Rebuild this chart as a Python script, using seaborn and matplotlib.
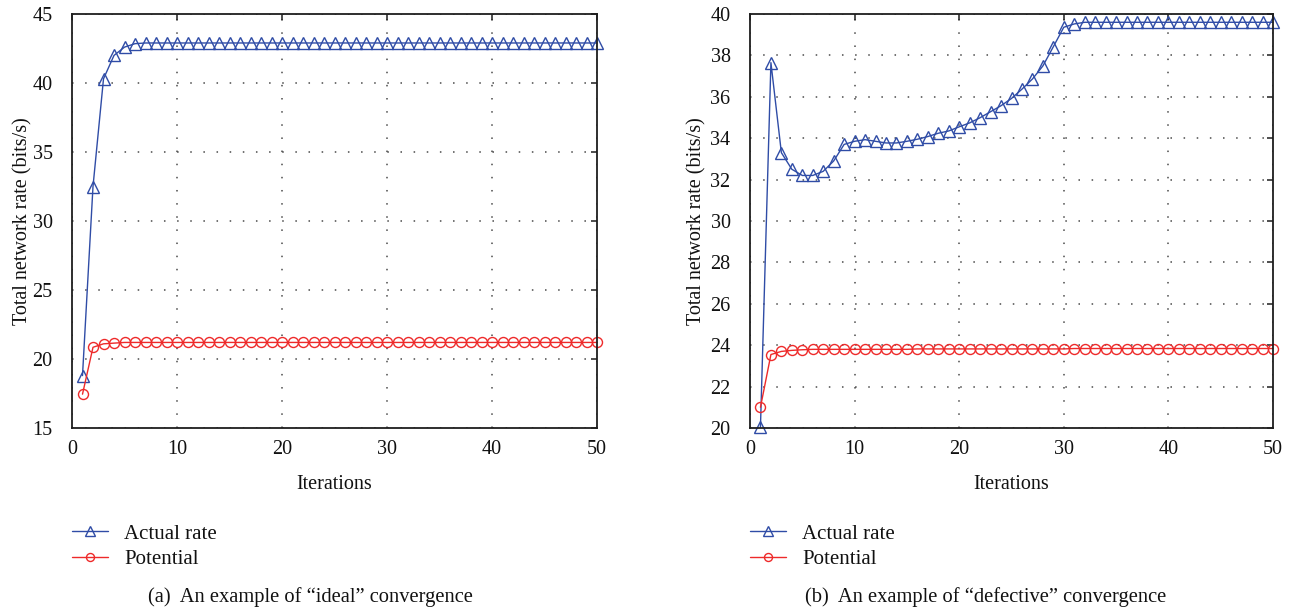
import matplotlib
matplotlib.use("Agg")
import matplotlib.pyplot as plt
import seaborn as sns

# Iteration index shared by both panels
iterations = list(range(1, 51))

# Panel (a): "ideal" convergence
ideal_actual = [
    18.8, 32.5, 40.3, 42.0, 42.6, 42.85, 42.9, 42.9, 42.9, 42.9,
    42.9, 42.9, 42.9, 42.9, 42.9, 42.9, 42.9, 42.9, 42.9, 42.9,
    42.9, 42.9, 42.9, 42.9, 42.9, 42.9, 42.9, 42.9, 42.9, 42.9,
    42.9, 42.9, 42.9, 42.9, 42.9, 42.9, 42.9, 42.9, 42.9, 42.9,
    42.9, 42.9, 42.9, 42.9, 42.9, 42.9, 42.9, 42.9, 42.9, 42.9,
]
ideal_potential = [
    17.45, 20.85, 21.1, 21.15, 21.2, 21.2, 21.2, 21.2, 21.2, 21.2,
    21.2, 21.2, 21.2, 21.2, 21.2, 21.2, 21.2, 21.2, 21.2, 21.2,
    21.2, 21.2, 21.2, 21.2, 21.2, 21.2, 21.2, 21.2, 21.2, 21.2,
    21.2, 21.2, 21.2, 21.2, 21.2, 21.2, 21.2, 21.2, 21.2, 21.2,
    21.2, 21.2, 21.2, 21.2, 21.2, 21.2, 21.2, 21.2, 21.2, 21.2,
]

# Panel (b): "defective" convergence
defective_actual = [
    20.05, 37.65, 33.3, 32.5, 32.2, 32.2, 32.4, 32.9, 33.7, 33.85,
    33.93, 33.85, 33.77, 33.77, 33.85, 33.95, 34.08, 34.24, 34.35, 34.55,
    34.74, 34.99, 35.28, 35.57, 35.92, 36.37, 36.86, 37.49, 38.42, 39.36,
    39.52, 39.6, 39.6, 39.6, 39.6, 39.6, 39.6, 39.6, 39.6, 39.6,
    39.6, 39.6, 39.6, 39.6, 39.6, 39.6, 39.6, 39.6, 39.6, 39.6,
]
defective_potential = [
    21.0, 23.55, 23.7, 23.75, 23.78, 23.8, 23.8, 23.8, 23.8, 23.8,
    23.8, 23.8, 23.8, 23.8, 23.8, 23.82, 23.82, 23.82, 23.82, 23.82,
    23.82, 23.82, 23.82, 23.82, 23.82, 23.82, 23.82, 23.82, 23.82, 23.82,
    23.84, 23.84, 23.84, 23.84, 23.84, 23.84, 23.84, 23.84, 23.84, 23.84,
    23.84, 23.84, 23.84, 23.84, 23.84, 23.84, 23.84, 23.84, 23.84, 23.84,
]

series_names = ["Actual rate", "Potential"]
captions = [
    "(a)  An example of \u201cideal\u201d convergence",
    "(b)  An example of \u201cdefective\u201d convergence",
]
x_ticks = [0, 10, 20, 30, 40, 50]
ideal_y_ticks = [15, 20, 25, 30, 35, 40, 45]
defective_y_ticks = [20, 22, 24, 26, 28, 30, 32, 34, 36, 38, 40]
x_label = "Iterations"
y_label = "Total network rate (bits/s)"

BLUE = "#2F4CA6"
RED = "#EE2A2A"
SPINE = "#1E1E1E"

sns.set_theme(style="white")
plt.rcParams["font.family"] = ["Liberation Serif", "DejaVu Serif"]

W, H = 1298, 611
fig = plt.figure(figsize=(W / 100, H / 100), dpi=100)
fig.patch.set_facecolor("white")


def axes_at(left, top, right, bottom):
    return fig.add_axes([left / W, 1 - bottom / H, (right - left) / W, (bottom - top) / H])


panels = [
    dict(rect=(72, 14, 597, 428), actual=ideal_actual, potential=ideal_potential,
         yticks=ideal_y_ticks, caption=captions[0], cap_x=148, ylab_x=32),
    dict(rect=(750, 14, 1273, 428), actual=defective_actual, potential=defective_potential,
         yticks=defective_y_ticks, caption=captions[1], cap_x=805, ylab_x=706),
]

for p in panels:
    ax = axes_at(*p["rect"])
    ax.set_facecolor("white")
    ax.set_axisbelow(True)

    sns.lineplot(x=iterations, y=p["actual"], ax=ax, color=BLUE, linewidth=1.0,
                 marker="^", markersize=8.5, markerfacecolor="none",
                 markeredgecolor=BLUE, markeredgewidth=1.0, clip_on=False,
                 label=series_names[0], legend=False)
    sns.lineplot(x=iterations, y=p["potential"], ax=ax, color=RED, linewidth=1.0,
                 marker="o", markersize=7.2, markerfacecolor="none",
                 markeredgecolor=RED, markeredgewidth=1.0, clip_on=False,
                 label=series_names[1], legend=False)

    ax.set_xlim(x_ticks[0], x_ticks[-1])
    ax.set_ylim(p["yticks"][0], p["yticks"][-1])
    ax.set_xticks(x_ticks)
    ax.set_yticks(p["yticks"])

    ax.grid(True, color="#4A4A4A", linestyle=(0, (1.0, 7.6)), linewidth=1.1)
    for side in ["left", "right", "top", "bottom"]:
        ax.spines[side].set_visible(True)
        ax.spines[side].set_color(SPINE)
        ax.spines[side].set_linewidth(1.3)
    ax.tick_params(axis="both", direction="in", length=4.5, width=1.1, color=SPINE,
                   top=True, right=True, labelsize=14.5, labelcolor="#111111")
    ax.tick_params(axis="y", pad=14)
    ax.tick_params(axis="x", pad=9)

    ax.set_xlabel(x_label, fontsize=14.5, color="#111111", labelpad=11)
    ax.set_ylabel(y_label, fontsize=14.5, color="#111111")
    ax.yaxis.set_label_coords((p["ylab_x"] - p["rect"][0]) / (p["rect"][2] - p["rect"][0]), 0.5)

    handles = list(ax.lines)[:2]
    fig.legend(handles, series_names, loc="upper left",
               bbox_to_anchor=(p["rect"][0] / W, 1 - 524 / H),
               frameon=False, fontsize=15, handlelength=1.75, handletextpad=0.75,
               labelspacing=0.28, borderpad=0, borderaxespad=0, markerscale=0.8,
               labelcolor="#111111")

    fig.text(p["cap_x"] / W, 1 - 597 / H, p["caption"], ha="left", va="center",
             fontsize=14.8, color="#111111")

fig.savefig("out.png", dpi=100, facecolor="white")
